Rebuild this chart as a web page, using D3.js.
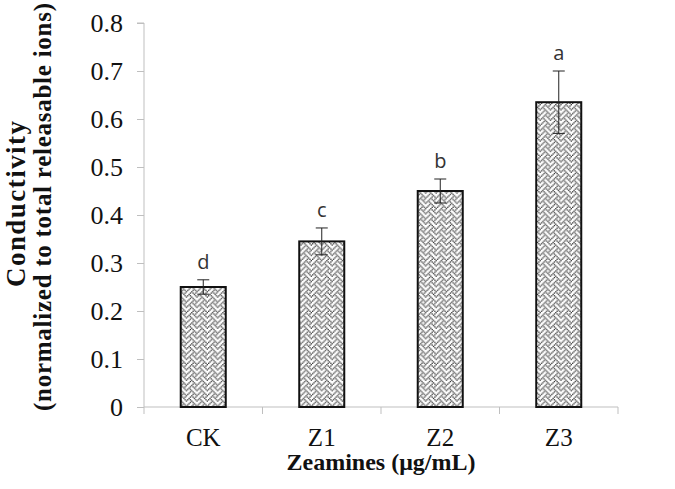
<!DOCTYPE html>
<html>
<head>
<meta charset="utf-8">
<script src="https://cdn.jsdelivr.net/npm/d3@7"></script>
<style>
  body { margin: 0; background: #fff; }
</style>
</head>
<body>
<div id="vis"></div>
<script>
// chart values
const categories = ['CK', 'Z1', 'Z2', 'Z3'];
const means = [0.25, 0.345, 0.45, 0.635];
const errors = [0.015, 0.028, 0.025, 0.065];
const letters = ['d', 'c', 'b', 'a'];
const yTicks = [0, 0.1, 0.2, 0.3, 0.4, 0.5, 0.6, 0.7, 0.8];

const width = 675, height = 489;
const margin = { left: 144, right: 57, top: 23, bottom: 82 };

const svg = d3.select('#vis')
  .append('svg')
  .attr('width', width)
  .attr('height', height);

// weave fill, like the excel pattern
const weave = [0x11, 0x2a, 0x44, 0xa2, 0x11, 0x28, 0x44, 0x8a];
const px = 1.3;
const defs = svg.append('defs');
const pat = defs.append('pattern')
  .attr('id', 'weave')
  .attr('patternUnits', 'userSpaceOnUse')
  .attr('width', 8 * px)
  .attr('height', 8 * px);
pat.append('rect').attr('width', 8 * px).attr('height', 8 * px).attr('fill', '#fff');
weave.forEach((row, r) => {
  for (let c = 0; c < 8; c++) {
    if (row & (0x80 >> c)) {
      pat.append('rect')
        .attr('x', c * px).attr('y', r * px)
        .attr('width', px).attr('height', px)
        .attr('fill', '#3a3a3a');
    }
  }
});

const x = d3.scaleBand()
  .domain(categories)
  .range([margin.left, width - margin.right])
  .paddingInner(0.62)
  .paddingOuter(0.31);

const y = d3.scaleLinear()
  .domain([0, 0.8])
  .range([height - margin.bottom, margin.top]);

// y axis
const yAxis = svg.append('g')
  .attr('transform', `translate(${margin.left},0)`)
  .call(d3.axisLeft(y).tickValues(yTicks).tickSize(7).tickPadding(14)
    .tickFormat(d => d === 0 ? '0' : d3.format('.1f')(d)));
yAxis.select('.domain').attr('stroke', '#bfbfbf').attr('d', `M-7,${y(0.8)}H0V${y(0)}`);
yAxis.selectAll('.tick line').attr('stroke', '#bfbfbf');
yAxis.selectAll('.tick text')
  .attr('font-family', '"Liberation Serif", serif')
  .attr('font-size', 26)
  .attr('fill', '#111');

// x axis with ticks between the categories
const xEdges = d3.range(categories.length + 1).map(i => margin.left + i * (width - margin.left - margin.right) / categories.length);
svg.append('line')
  .attr('x1', margin.left).attr('x2', width - margin.right)
  .attr('y1', y(0)).attr('y2', y(0))
  .attr('stroke', '#bfbfbf');
svg.selectAll('.xtick')
  .data(xEdges)
  .enter()
  .append('line')
  .attr('class', 'xtick')
  .attr('x1', d => d).attr('x2', d => d)
  .attr('y1', y(0)).attr('y2', y(0) + 7)
  .attr('stroke', '#bfbfbf');
svg.selectAll('.xlabel')
  .data(categories)
  .enter()
  .append('text')
  .attr('class', 'xlabel')
  .attr('x', d => x(d) + x.bandwidth() / 2)
  .attr('y', y(0) + 39)
  .attr('text-anchor', 'middle')
  .attr('font-family', '"Liberation Serif", serif')
  .attr('font-size', 25)
  .attr('fill', '#111')
  .text(d => d);

// bars
svg.selectAll('.bar')
  .data(means)
  .enter()
  .append('rect')
  .attr('class', 'bar')
  .attr('x', (d, i) => x(categories[i]))
  .attr('y', d => y(d))
  .attr('width', x.bandwidth())
  .attr('height', d => y(0) - y(d))
  .attr('fill', 'url(#weave)')
  .attr('stroke', '#111')
  .attr('stroke-width', 2);

// error bars
const cap = 6;
const err = svg.selectAll('.err')
  .data(means)
  .enter()
  .append('g')
  .attr('class', 'err')
  .attr('transform', (d, i) => `translate(${x(categories[i]) + x.bandwidth() / 2},0)`);
err.append('line')
  .attr('y1', (d, i) => y(d + errors[i]))
  .attr('y2', (d, i) => y(d - errors[i]))
  .attr('stroke', '#222');
err.append('line')
  .attr('x1', -cap).attr('x2', cap)
  .attr('y1', (d, i) => y(d + errors[i]))
  .attr('y2', (d, i) => y(d + errors[i]))
  .attr('stroke', '#222');
err.append('line')
  .attr('x1', -cap).attr('x2', cap)
  .attr('y1', (d, i) => y(d - errors[i]))
  .attr('y2', (d, i) => y(d - errors[i]))
  .attr('stroke', '#222');

// significance letters
svg.selectAll('.sig')
  .data(letters)
  .enter()
  .append('text')
  .attr('class', 'sig')
  .attr('x', (d, i) => x(categories[i]) + x.bandwidth() / 2)
  .attr('y', (d, i) => y(means[i] + errors[i]) - 11)
  .attr('text-anchor', 'middle')
  .attr('font-family', '"Open Sans", sans-serif')
  .attr('font-size', 20)
  .attr('fill', '#333')
  .text(d => d);

// axis titles
svg.append('text')
  .attr('x', (margin.left + width - margin.right) / 2)
  .attr('y', 470)
  .attr('text-anchor', 'middle')
  .attr('font-family', '"Liberation Serif", serif')
  .attr('font-weight', 'bold')
  .attr('font-size', 24)
  .attr('fill', '#111')
  .text('Zeamines (μg/mL)');

svg.append('text')
  .attr('transform', 'translate(25,204) rotate(-90)')
  .attr('text-anchor', 'middle')
  .attr('font-family', '"Liberation Serif", serif')
  .attr('font-weight', 'bold')
  .attr('font-size', 27)
  .attr('fill', '#111')
  .attr('textLength', 166)
  .attr('lengthAdjust', 'spacing')
  .text('Conductivity');

svg.append('text')
  .attr('transform', 'translate(51,207) rotate(-90)')
  .attr('text-anchor', 'middle')
  .attr('font-family', '"Liberation Serif", serif')
  .attr('font-weight', 'bold')
  .attr('font-size', 25)
  .attr('fill', '#111')
  .attr('textLength', 408)
  .attr('lengthAdjust', 'spacing')
  .text('(normalized  to total releasable ions)');
</script>
</body>
</html>
